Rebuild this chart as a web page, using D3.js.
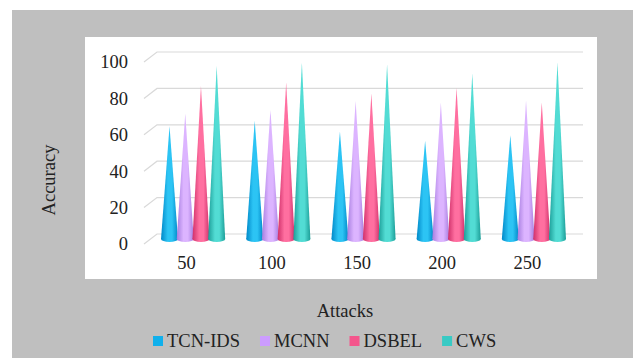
<!DOCTYPE html>
<html>
<head>
<meta charset="utf-8">
<script src="https://cdn.jsdelivr.net/npm/d3@7"></script>
<style>
  html, body { margin: 0; padding: 0; background: #fff; }
  svg { display: block; }
  svg text { font-family: "Liberation Serif", "Times New Roman", serif; }
</style>
</head>
<body>
<div id="chart"></div>
<script>
// data
const attacks = ['50', '100', '150', '200', '250'];
const seriesNames = ['TCN-IDS', 'MCNN', 'DSBEL', 'CWS'];
const tcnIds = [62, 65, 59, 54, 57];
const mcnn = [69, 71, 76, 75, 76];
const dsbel = [84, 86, 80, 83, 75];
const cws = [95, 97, 96, 91, 97];
const yTicks = [0, 20, 40, 60, 80, 100];

const seriesValues = [tcnIds, mcnn, dsbel, cws];
// dark edge, light centre
const colors = [
  ['#0088c8', '#2cc4f4'],
  ['#a77ee0', '#dcb4ff'],
  ['#d0306a', '#ff6fa0'],
  ['#1c9e98', '#52dcd4']
];
const legendColors = ['#10b0ec', '#cc9cff', '#f4568c', '#38cac4'];
const serif = '"Liberation Serif", "Times New Roman", serif';

const W = 633, H = 358;
const svg = d3.select('#chart').append('svg').attr('width', W).attr('height', H);

// panels
svg.append('rect').attr('x', 12).attr('y', 10).attr('width', W - 12).attr('height', H - 10).attr('fill', '#bfbfbf');
svg.append('rect').attr('x', 85).attr('y', 37).attr('width', 597 - 85).attr('height', 279 - 37).attr('fill', '#fff');

// back wall scales, depth offset of the front edge
const depthX = -13, depthY = 10;
const y = d3.scaleLinear().domain([0, 100]).range([234, 52]);
const x0 = d3.scaleBand().domain(attacks).range([157, 583]).paddingInner(0);
const x1 = d3.scaleBand().domain(seriesNames).range([0, x0.bandwidth()]).paddingInner(0).paddingOuter(0.71);

// grid
const grid = svg.append('g').attr('stroke', '#d9d9d9').attr('stroke-width', 1.2).attr('fill', 'none');
yTicks.forEach(t => {
  grid.append('path')
    .attr('d', `M${157 + depthX},${y(t) + depthY}L157,${y(t)}L583,${y(t)}`);
});

// y tick labels
svg.append('g').selectAll('text')
  .data(yTicks)
  .enter().append('text')
  .attr('x', 128)
  .attr('y', d => y(d) + depthY)
  .attr('dy', '0.35em')
  .attr('text-anchor', 'end')
  .attr('font-family', serif)
  .attr('font-size', 18.5)
  .attr('fill', '#222')
  .text(d => d);

// gradients
const defs = svg.append('defs');
colors.forEach((c, i) => {
  const g = defs.append('linearGradient').attr('id', 'cone' + i)
    .attr('x1', 0).attr('x2', 1).attr('y1', 0).attr('y2', 0);
  g.append('stop').attr('offset', '0%').attr('stop-color', c[0]);
  g.append('stop').attr('offset', '40%').attr('stop-color', c[1]);
  g.append('stop').attr('offset', '65%').attr('stop-color', c[1]);
  g.append('stop').attr('offset', '100%').attr('stop-color', c[0]);
});

// cones sit half way in depth
const midX = depthX / 2, midY = depthY / 2;
const baseW = x1.step() * 1.08;
const baseY = y(0) + midY;
const cones = svg.append('g');
attacks.forEach((a, gi) => {
  seriesNames.forEach((s, si) => {
    const v = seriesValues[si][gi];
    const cx = x0(a) + x1(s) + x1.bandwidth() / 2 + midX;
    const tipY = y(v) + midY;
    const g = cones.append('g');
    g.append('ellipse')
      .attr('cx', cx).attr('cy', baseY)
      .attr('rx', baseW / 2).attr('ry', 3)
      .attr('fill', `url(#cone${si})`);
    g.append('path')
      .attr('d', `M${cx - baseW / 2},${baseY}L${cx},${tipY}L${cx + baseW / 2},${baseY}Z`)
      .attr('fill', `url(#cone${si})`);
  });
});

// category labels (front edge)
svg.append('g').selectAll('text')
  .data(attacks)
  .enter().append('text')
  .attr('x', d => x0(d) + x0.bandwidth() / 2 + depthX)
  .attr('y', 263)
  .attr('dy', '0.35em')
  .attr('text-anchor', 'middle')
  .attr('font-family', serif)
  .attr('font-size', 18.5)
  .attr('fill', '#222')
  .text(d => d);

// axis titles
svg.append('text')
  .attr('transform', 'translate(49,180) rotate(-90)')
  .attr('dy', '0.35em')
  .attr('text-anchor', 'middle')
  .attr('font-family', serif)
  .attr('font-size', 18.5)
  .attr('fill', '#222')
  .text('Accuracy');

svg.append('text')
  .attr('x', 345).attr('y', 311)
  .attr('dy', '0.35em')
  .attr('text-anchor', 'middle')
  .attr('font-family', serif)
  .attr('font-size', 18.5)
  .attr('fill', '#222')
  .text('Attacks');

// legend
const legend = svg.append('g');
let lx = 153;
seriesNames.forEach((s, i) => {
  legend.append('rect')
    .attr('x', lx).attr('y', 336).attr('width', 10).attr('height', 10)
    .attr('fill', legendColors[i]);
  const t = legend.append('text')
    .attr('x', lx + 14).attr('y', 341)
    .attr('dy', '0.35em')
    .attr('font-family', serif)
    .attr('font-size', 18.5)
    .attr('fill', '#222')
    .text(s);
  lx += 14 + t.node().getComputedTextLength() + 20;
});
</script>
</body>
</html>
